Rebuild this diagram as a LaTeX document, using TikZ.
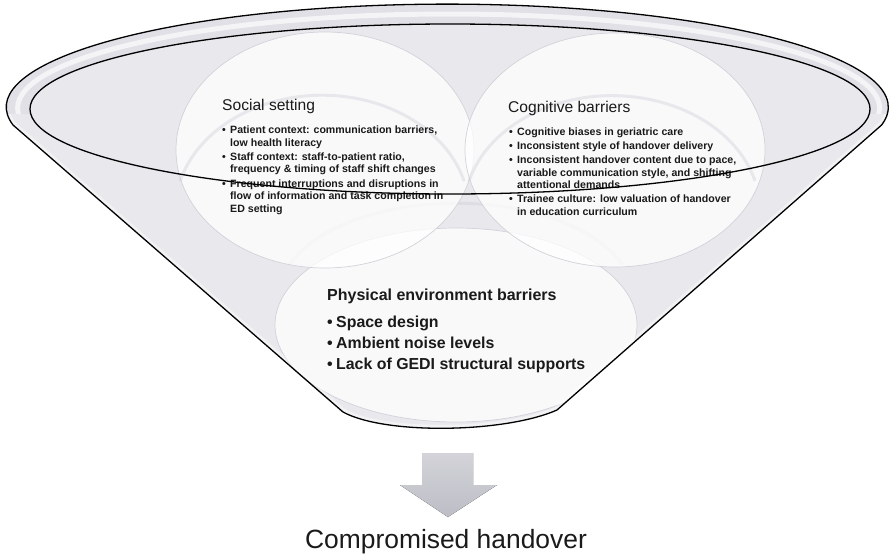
\documentclass[tikz,border=0pt]{standalone}
\usepackage{fontspec}
\setmainfont{Liberation Sans}
\usetikzlibrary{calc}
\definecolor{ink}{HTML}{1A1A1A}
\definecolor{bodyfill}{HTML}{E8E8ED}
\definecolor{bandfill}{HTML}{E0E0E6}
\definecolor{discedge}{HTML}{D2D2DA}
\definecolor{discshade}{HTML}{C9C9D2}
\definecolor{arrowtopc}{HTML}{D3D3D9}
\definecolor{arrowbotc}{HTML}{BDBDC6}
\newcommand\itemmark{\makebox[8pt][l]{•}}
\newcommand\itemcont{\makebox[8pt]{}}
\newcommand\bigmark{\makebox[9pt][l]{•}}
\begin{document}
\begin{tikzpicture}[x=1pt,y=-1pt,
  rimline/.style={draw=black, line width=1.3pt, line join=round},
  disc/.style={fill=white, fill opacity=0.75, draw=discedge, draw opacity=1, line width=0.7pt},
  discrim/.style={draw=discshade, line width=3pt, opacity=0.35},
  ttl/.style={anchor=base west, inner sep=0pt, text=ink, font=\fontsize{15.6}{18}\selectfont},
  smalllist/.style={anchor=north west, inner sep=0pt, align=left, text=ink,
    font=\bfseries\fontsize{10.6}{12.6}\selectfont},
  bigttl/.style={anchor=base west, inner sep=0pt, text=ink, font=\bfseries\fontsize{16}{19}\selectfont},
  biglist/.style={anchor=north west, inner sep=0pt, align=left, text=ink,
    font=\bfseries\fontsize{15.9}{21}\selectfont},
  outcome/.style={anchor=base, inner sep=0pt, text=ink, font=\fontsize{26.4}{30}\selectfont},
  blockarrow/.style={top color=arrowtopc, bottom color=arrowbotc, draw=none}
]
\useasboundingbox (0,0) rectangle (889,555);

% funnel body outline: back rim arc, two sides and the rounded bottom
\def\funnelpath{(13,125) arc[start angle=170, end angle=370, x radius=441, y radius=103]
  -- (557,410) .. controls (505,433) and (385,435) .. (343,412) -- cycle}

% body of the funnel
\fill[bodyfill] \funnelpath;

% the three overlapping discs, each with a soft shadow along its lower edge
\begin{scope}
  \clip \funnelpath;
  \path[disc] (456,325) ellipse[x radius=181, y radius=97];
  \draw[discrim] (456,325) ++(200:177) arc[start angle=200, end angle=340, x radius=177, y radius=93];
  \path[disc] (325,150) ellipse[x radius=149, y radius=118];
  \draw[discrim] (325,150) ++(-144.9,31.2) arc[start angle=195, end angle=345, x radius=147, y radius=116];
  \path[disc] (615,150) ellipse[x radius=150, y radius=117];
  \draw[discrim] (615,150) ++(-145.9,30.9) arc[start angle=195, end angle=345, x radius=148, y radius=115];
  % pale sheen just inside the funnel walls
  \draw[white, line width=7pt, opacity=0.45] \funnelpath;
\end{scope}

% rim band at the back of the funnel mouth
\begin{scope}
  \clip (0,0) rectangle (889,113);
  \fill[bandfill, even odd rule] (447.3,107.1) ellipse[x radius=441, y radius=103]
                                 (450,109) ellipse[x radius=420, y radius=85];
  \draw[white, line width=5pt, opacity=0.65] (448.6,108) ellipse[x radius=431, y radius=94];
\end{scope}

% social setting
\node[ttl] (ttlS) at (222,110) {Social setting};
\node[smalllist] (lstS) at (222,125.7) {%
  \itemmark Patient context: communication barriers,\\
  \itemcont low health literacy\\[1.6pt]
  \itemmark Staff context: staff-to-patient ratio,\\
  \itemcont frequency \& timing of staff shift changes\\[1.6pt]
  \itemmark Frequent interruptions and disruptions in\\
  \itemcont flow of information and task completion in\\
  \itemcont ED setting};

% cognitive barriers
\node[ttl] (ttlC) at (508,112) {Cognitive barriers};
\node[smalllist] (lstC) at (509,127.3) {%
  \itemmark Cognitive biases in geriatric care\\[1.6pt]
  \itemmark Inconsistent style of handover delivery\\[1.6pt]
  \itemmark Inconsistent handover content due to pace,\\
  \itemcont variable communication style, and shifting\\
  \itemcont attentional demands\\[1.6pt]
  \itemmark Trainee culture: low valuation of handover\\
  \itemcont in education curriculum};

% physical environment barriers
\node[bigttl] (ttlP) at (327,300) {Physical environment barriers};
\node[biglist] (lstP) at (327,315.4) {%
  \bigmark Space design\\
  \bigmark Ambient noise levels\\
  \bigmark Lack of GEDI structural supports};

% funnel outlines drawn over the contents
\draw[rimline] \funnelpath;
\draw[rimline] (450,109) ellipse[x radius=420, y radius=85];

% result below the funnel
\node[outcome] (result) at (446,548) {Compromised handover};
\coordinate (spout) at (447.5,453);
\fill[blockarrow] ($(spout)+(-25.5,0)$) -- ($(spout)+(25.5,0)$) -- ($(spout)+(25.5,32)$)
  -- ($(spout)+(49.5,32)$) -- ($(spout)+(0.5,64)$) -- ($(spout)+(-47.5,32)$)
  -- ($(spout)+(-25.5,32)$) -- cycle;
\end{tikzpicture}
\end{document}
